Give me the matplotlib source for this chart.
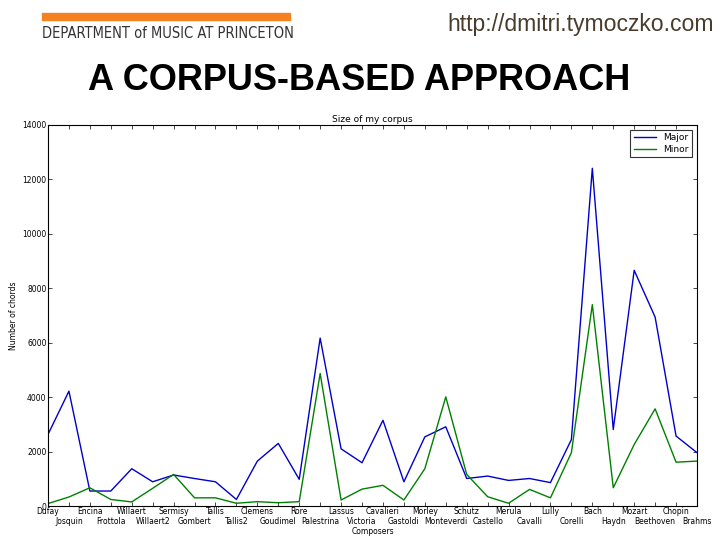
import matplotlib.pyplot as plt
import numpy as np

composers = ['Dufay', 'Josquin', 'Encina', 'Frottola', 'Willaert', 'Willaert2',
             'Sermisy', 'Gombert', 'Tallis', 'Tallis2', 'Clemens', 'Goudimel',
             'Rore', 'Palestrina', 'Lassus', 'Victoria', 'Cavalieri', 'Gastoldi',
             'Morley', 'Monteverdi', 'Schutz', 'Castello', 'Merula', 'Cavalli',
             'Lully', 'Corelli', 'Bach', 'Haydn', 'Mozart', 'Beethoven',
             'Chopin', 'Brahms']

major = [2630, 4220, 550, 550, 1370, 890, 1140, 1010, 890, 240, 1650, 2300,
         980, 6170, 2100, 1590, 3150, 890, 2540, 2910, 1010, 1100, 940, 1010,
         860, 2440, 12410, 2810, 8660, 6940, 2570, 1960]
minor = [90, 330, 670, 240, 150, 650, 1160, 300, 300, 100, 160, 120,
         160, 4870, 220, 620, 760, 220, 1370, 4010, 1160, 340, 100, 610,
         300, 1960, 7400, 670, 2260, 3570, 1610, 1650]

fig = plt.figure(figsize=(7.2, 5.4), dpi=100)

# slide header
fig.patches.append(plt.Rectangle((42 / 720, 1 - 20 / 540), 248 / 720, 7 / 540,
                                 transform=fig.transFigure, color='#f58220'))
fig.text(42 / 720, 1 - 33 / 540, 'DEPARTMENT of MUSIC AT PRINCETON',
         fontsize=10.5, color='#333333', va='center', ha='left',
         family='DejaVu Sans', fontstretch='condensed')
fig.text(447 / 720, 1 - 25 / 540, 'http://dmitri.tymoczko.com',
         fontsize=16.6, color='#4a3c2c', va='center', ha='left',
         family='Liberation Sans')
fig.text(88 / 720, 1 - 81 / 540, 'A CORPUS-BASED APPROACH',
         fontsize=26, fontweight='bold', color='black', va='center', ha='left',
         family='Liberation Sans')

ax = fig.add_axes([48 / 720, 34 / 540, 649 / 720, 381 / 540])
x = np.arange(len(composers))
ax.plot(x, major, color='#0000cc', lw=1, label='Major')
ax.plot(x, minor, color='#008000', lw=1, label='Minor')

ax.set_xlim(0, len(composers) - 1)
ax.set_ylim(0, 14000)
# alternate composer names on two rows
ax.set_xticks(x[::2])
ax.set_xticklabels(composers[::2])
ax.set_xticks(x[1::2], minor=True)
ax.set_xticklabels(composers[1::2], minor=True)
ax.set_yticks(np.arange(0, 14001, 2000))
ax.tick_params(which='both', labelsize=5.5, direction='in', top=True, right=True,
               length=3, width=0.5, pad=1)
ax.tick_params(axis='x', which='minor', pad=8)
for s in ax.spines.values():
    s.set_linewidth(0.8)
ax.set_title('Size of my corpus', fontsize=6.5, pad=2)
ax.set_xlabel('Composers', fontsize=5.5, labelpad=1)
ax.set_ylabel('Number of chords', fontsize=5.5, labelpad=3)
leg = ax.legend(loc='upper right', fontsize=6.5, fancybox=False,
                handlelength=2.5, borderpad=0.4, labelspacing=0.3)
leg.get_frame().set_edgecolor('black')
leg.get_frame().set_linewidth(0.8)

fig.savefig('out.png', dpi=100)
